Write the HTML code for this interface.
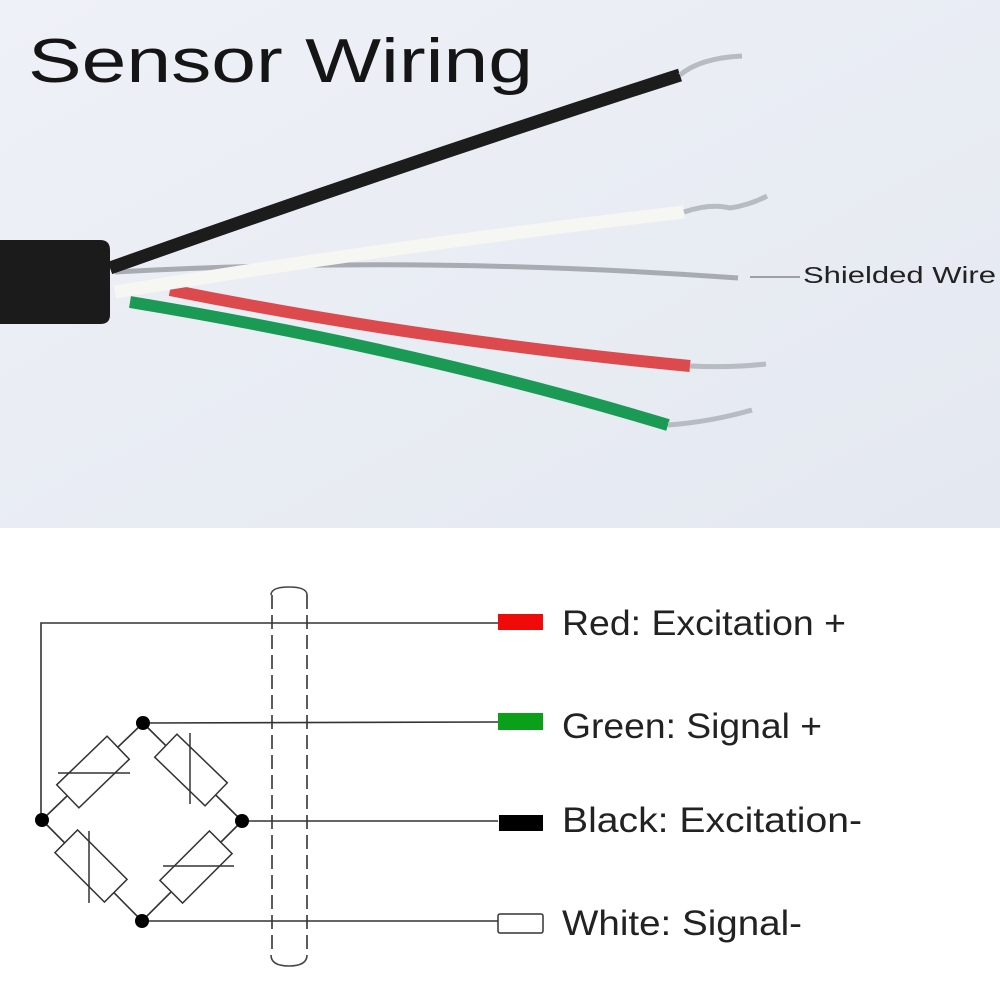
<!DOCTYPE html>
<html><head><meta charset="utf-8"><style>
html,body{margin:0;padding:0;width:1000px;height:1000px;overflow:hidden;background:#fff}
svg{display:block}
text{font-family:"Liberation Sans",sans-serif}
</style></head><body>
<svg width="1000" height="1000" viewBox="0 0 1000 1000" xmlns="http://www.w3.org/2000/svg">
<defs>
<linearGradient id="bg" x1="0" y1="0" x2="1" y2="1">
<stop offset="0" stop-color="#eef1f7"/><stop offset="1" stop-color="#e4e8f0"/>
</linearGradient>
</defs>
<rect x="0" y="0" width="1000" height="528" fill="url(#bg)"/>
<text x="28" y="82" font-size="62" fill="#151515" textLength="505" lengthAdjust="spacingAndGlyphs">Sensor Wiring</text>
<!-- wires -->
<path d="M130,302 Q420,350 668,425" stroke="#1a9a55" stroke-width="12" fill="none"/>
<path d="M668,425 Q710,422 752,410" stroke="#b8bcc2" stroke-width="5" fill="none"/>
<path d="M170,290 Q420,340 690,366" stroke="#dc4a4e" stroke-width="12" fill="none"/>
<path d="M690,366 Q730,368 766,364" stroke="#b8bcc2" stroke-width="5" fill="none"/>
<path d="M115,272 Q420,255 738,278" stroke="#a8acb2" stroke-width="5" fill="none"/>
<path d="M115,292 Q400,245 684,212" stroke="#f6f6f2" stroke-width="13" fill="none"/>
<path d="M684,212 Q710,203 730,208 Q750,205 767,196" stroke="#b8bcc2" stroke-width="5" fill="none"/>
<path d="M110,268 Q400,165 680,75" stroke="#1c1c1c" stroke-width="13" fill="none"/>
<path d="M680,75 Q700,58 742,56" stroke="#b8bcc2" stroke-width="5" fill="none"/>
<path d="M0,240 L100,240 Q110,240 110,250 L110,315 Q110,324 100,324 L0,324 Z" fill="#1b1b1b"/>
<line x1="750" y1="277" x2="800" y2="277" stroke="#555" stroke-width="1"/>
<text x="803" y="283" font-size="23" fill="#222" textLength="193" lengthAdjust="spacingAndGlyphs">Shielded Wire</text>
<!-- schematic -->
<g stroke="#333" stroke-width="1.6" fill="none">
<path d="M41,820 L41,623 L498,623"/>
<line x1="143" y1="723" x2="498" y2="722"/>
<line x1="242" y1="821" x2="498" y2="821"/>
<line x1="142" y1="921" x2="498" y2="921"/>
<line x1="42" y1="820" x2="143" y2="723"/>
<line x1="143" y1="723" x2="242" y2="821"/>
<line x1="42" y1="820" x2="142" y2="921"/>
<line x1="142" y1="921" x2="242" y2="821"/>
<path d="M271,595 Q271,587 289,587 Q307,587 307,595" stroke="#444"/>
<path d="M271,955 Q271,966 289,966 Q307,966 307,955" stroke="#444"/>
<line x1="272" y1="595" x2="272" y2="955" stroke-dasharray="14,6"/>
<line x1="307" y1="595" x2="307" y2="955" stroke-dasharray="14,6"/>
</g>
<g stroke="#333" stroke-width="1.5" fill="#fff">
<rect x="-35" y="-16" width="70" height="32" transform="translate(93,772) rotate(-44)"/>
<rect x="-35" y="-16" width="70" height="32" transform="translate(191,770) rotate(44)"/>
<rect x="-35" y="-16" width="70" height="32" transform="translate(91,866) rotate(45)"/>
<rect x="-35" y="-16" width="70" height="32" transform="translate(196,867) rotate(-45)"/>
<line x1="58" y1="773" x2="130" y2="773"/>
<line x1="190" y1="733" x2="190" y2="804"/>
<line x1="89" y1="831" x2="89" y2="903"/>
<line x1="163" y1="866" x2="234" y2="866"/>
</g>
<g fill="#000">
<circle cx="143" cy="723" r="7"/><circle cx="42" cy="820" r="7"/>
<circle cx="242" cy="821" r="7"/><circle cx="142" cy="921" r="7"/>
</g>
<rect x="498" y="614" width="45" height="16" fill="#f00a0a"/>
<rect x="498" y="713" width="45" height="17" fill="#0aa01a"/>
<rect x="499" y="815" width="44" height="16" fill="#000"/>
<rect x="498" y="914" width="45" height="19" rx="2" fill="#fff" stroke="#333" stroke-width="1.5"/>
<g font-size="35" fill="#222">
<text x="562" y="635" textLength="284" lengthAdjust="spacingAndGlyphs">Red: Excitation +</text>
<text x="562" y="738" textLength="260" lengthAdjust="spacingAndGlyphs">Green: Signal +</text>
<text x="562" y="832" textLength="300" lengthAdjust="spacingAndGlyphs">Black: Excitation-</text>
<text x="562" y="935" textLength="240" lengthAdjust="spacingAndGlyphs">White: Signal-</text>
</g>
</svg>
</body></html>
